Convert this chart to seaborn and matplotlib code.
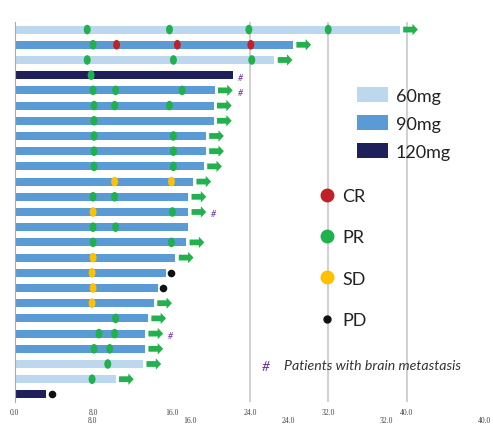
import numpy as np
import pandas as pd
import matplotlib.pyplot as plt
import seaborn as sns
from matplotlib.patches import Patch
from matplotlib.lines import Line2D
from matplotlib.path import Path
from matplotlib.transforms import Affine2D

# one entry per patient, top row first
dose = ["60mg", "90mg", "60mg", "120mg", "90mg", "90mg", "90mg", "90mg", "90mg",
        "90mg", "90mg", "90mg", "90mg", "90mg", "90mg", "90mg", "90mg", "90mg",
        "90mg", "90mg", "90mg", "90mg", "60mg", "60mg", "120mg"]
duration = [39.3, 28.4, 26.5, 22.3, 20.4, 20.3, 20.3, 19.5, 19.5, 19.3, 18.2, 17.7,
            17.7, 17.7, 17.5, 16.4, 15.4, 14.6, 14.2, 13.6, 13.3, 13.3, 13.1, 10.3, 3.2]
ongoing = [1, 1, 1, 0, 1, 1, 1, 1, 1, 1, 1, 1, 1, 0, 1, 1, 0, 0, 1, 1, 1, 1, 1, 1, 0]
brain_met = [0, 0, 0, 1, 1, 0, 0, 0, 0, 0, 0, 0, 1, 0, 0, 0, 0, 0, 0, 0, 1, 0, 0, 0, 0]

# response assessments (patient row, month, response)
resp_patient = [0, 0, 0, 0,
                1, 1, 1, 1,
                2, 2, 2,
                3,
                4, 4, 4,
                5, 5, 5,
                6,
                7, 7,
                8, 8,
                9, 9,
                10, 10,
                11, 11,
                12, 12,
                13, 13,
                14, 14,
                15,
                16, 16,
                17, 17,
                18,
                19,
                20, 20,
                21, 21,
                22,
                23,
                24]
resp_time = [7.4, 15.8, 23.9, 32.0,
             8.0, 10.4, 16.6, 24.1,
             7.4, 16.2, 24.2,
             7.8,
             8.0, 10.3, 17.1,
             8.1, 10.2, 15.8,
             8.1,
             8.1, 16.2,
             8.1, 16.2,
             8.1, 16.2,
             10.2, 16.0,
             8.0, 10.2,
             8.0, 16.1,
             8.0, 10.3,
             8.0, 16.0,
             8.0,
             7.9, 16.0,
             8.0, 15.1,
             7.9,
             10.3,
             8.6, 10.2,
             8.1, 9.7,
             9.5,
             7.9,
             3.8]
resp_type = ["PR", "PR", "PR", "PR",
             "PR", "CR", "CR", "CR",
             "PR", "PR", "PR",
             "PR",
             "PR", "PR", "PR",
             "PR", "PR", "PR",
             "PR",
             "PR", "PR",
             "PR", "PR",
             "PR", "PR",
             "SD", "SD",
             "PR", "PR",
             "SD", "PR",
             "PR", "PR",
             "PR", "PR",
             "SD",
             "SD", "PD",
             "SD", "PD",
             "SD",
             "PR",
             "PR", "PR",
             "PR", "PR",
             "PR",
             "PR",
             "PD"]

tick_vals = [0, 8, 16, 24, 32, 40]
tick_labels = ["0.0", "8.0", "16.0", "24.0", "32.0", "40.0"]
extra_tick_pos = [7.9, 17.9, 27.9, 37.9, 48.0]
extra_tick_labels = ["8.0", "16.0", "24.0", "32.0", "40.0"]

dose_colors = {"60mg": "#BDD7EE", "90mg": "#5B9BD5", "120mg": "#1F1F5C"}
resp_colors = {"CR": "#C0202A", "PR": "#1FB14C", "SD": "#FFC000", "PD": "#111111"}
arrow_color = "#22B14C"
hash_color = "#7030A0"

sns.set_style("white")
plt.rcParams["font.family"] = ["Lato", "DejaVu Sans"]

n = len(duration)
df = pd.DataFrame({"patient": np.arange(n), "duration": duration, "dose": dose})
resp = pd.DataFrame({"patient": resp_patient, "time": resp_time, "resp": resp_type})

fig = plt.figure(figsize=(4.93, 4.27), dpi=100)
ax = fig.add_axes([0.0298, 0.0562, 0.944, 0.89])

for g in [24, 32, 40]:
    ax.axvline(g, color="#C8C8C8", lw=1.2, zorder=0)

sns.barplot(data=df, x="duration", y="patient", hue="dose", orient="h",
            palette=dose_colors, dodge=False, native_scale=True, width=0.52,
            saturation=1, linewidth=0, legend=False, ax=ax, zorder=2)

# tall ellipse marker for response dots
ellipse = Path.unit_circle().transformed(Affine2D().scale(0.72, 1.0))
main = resp[resp["resp"] != "PD"]
pd_rows = resp[resp["resp"] == "PD"]
sns.scatterplot(data=main, x="time", y="patient", hue="resp", palette=resp_colors,
                marker=ellipse, s=48, linewidth=0, legend=False, ax=ax, zorder=4)
sns.scatterplot(data=pd_rows, x="time", y="patient", color=resp_colors["PD"],
                marker="o", s=30, linewidth=0, legend=False, ax=ax, zorder=4)

# ongoing arrows and brain metastasis marks
for i in range(n):
    end = duration[i]
    if ongoing[i]:
        ax.arrow(end + 0.35, i, 1.5, 0, width=0.38, head_width=0.75, head_length=0.55,
                 length_includes_head=True, color=arrow_color, lw=0, zorder=3)
        end = end + 1.85
    if brain_met[i]:
        ax.text(end + 0.5, i + 0.12, "#", color=hash_color, fontsize=6.5,
                style="italic", ha="left", va="center")

ax.set_xlim(0, 47.5)
ax.set_ylim(n - 0.5, -0.5)
ax.set_xticks(tick_vals)
ax.set_xticklabels(tick_labels, family="Liberation Serif", fontsize=5.5, color="#444444")
ax.tick_params(axis="x", length=0, pad=4)
ax.set_yticks(np.arange(-0.5, n, 1))
ax.set_yticklabels([])
ax.tick_params(axis="y", length=3, color="#AAAAAA", width=0.8)
ax.set_xlabel("")
ax.set_ylabel("")
for s in ["top", "right", "bottom"]:
    ax.spines[s].set_visible(False)
ax.spines["left"].set_color("#AAAAAA")
ax.spines["left"].set_linewidth(0.8)

for p, lab in zip(extra_tick_pos, extra_tick_labels):
    ax.text(p, -0.036, lab, transform=ax.get_xaxis_transform(), family="Liberation Serif",
            fontsize=5.5, color="#444444", ha="center", va="top", clip_on=False)

dose_handles = [Patch(facecolor=dose_colors[k], edgecolor="none") for k in ["60mg", "90mg", "120mg"]]
leg1 = fig.legend(handles=dose_handles, labels=["60mg", "90mg", "120mg"],
                  loc="upper left", bbox_to_anchor=(357 / 493, 1 - 88 / 427),
                  frameon=False, fontsize=13, handlelength=1.7, handleheight=0.9,
                  handletextpad=0.45, labelspacing=0.63, borderpad=0, borderaxespad=0)
for t in leg1.get_texts():
    t.set_color("#222222")

resp_handles = [Line2D([], [], ls="none", marker="o", markersize=ms, color=resp_colors[k])
                for k, ms in zip(["CR", "PR", "SD", "PD"], [9, 9, 9, 5])]
leg2 = fig.legend(handles=resp_handles, labels=["CR", "PR", "SD", "PD"],
                  loc="upper left", bbox_to_anchor=(318 / 493, 1 - 189 / 427),
                  frameon=False, fontsize=13, handlelength=1.0,
                  handletextpad=0.35, labelspacing=1.4, borderpad=0, borderaxespad=0)
for t in leg2.get_texts():
    t.set_color("#222222")

fig.text(266 / 493, 1 - 367 / 427, "#", color=hash_color, fontsize=10, style="italic",
         ha="center", va="center")
fig.text(284 / 493, 1 - 366 / 427, "Patients with brain metastasis", color="#333333",
         fontsize=10.2, style="italic", ha="left", va="center")

fig.savefig("out.png", dpi=100)
